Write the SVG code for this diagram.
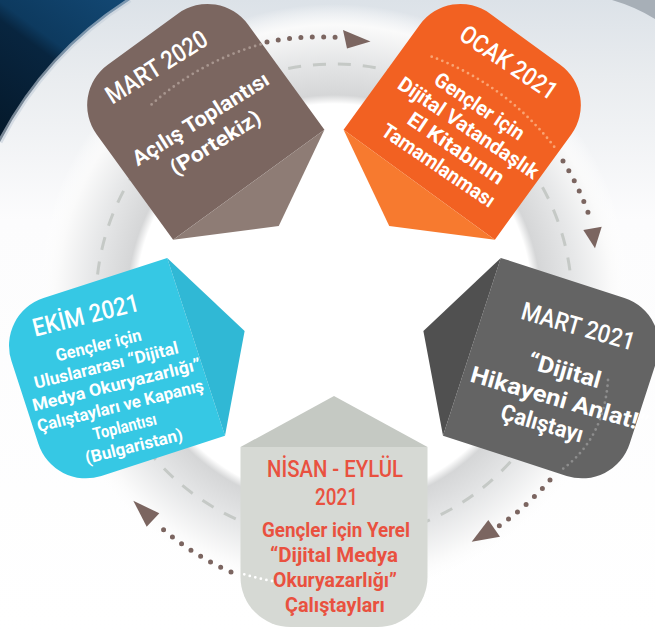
<svg xmlns="http://www.w3.org/2000/svg" width="655" height="630" viewBox="0 0 655 630">
<defs>
<style>
.t{font-family:Roboto,"Open Sans","DejaVu Sans",sans-serif;fill:#fff;text-anchor:middle}
.h{font-size:25px;font-weight:500}
.b{font-weight:700}
.red{fill:#e9513f}
.dk{fill:none;stroke:#7b6560;stroke-width:5;stroke-linecap:round;stroke-dasharray:0 11.4}
.lt{fill:none;stroke-width:2.8;stroke-linecap:round;stroke-dasharray:0 5.7}
.ah{fill:#7b6560}
</style>
<linearGradient id="bg" x1="0" y1="0" x2="0" y2="1">
<stop offset="0" stop-color="#dce2e8"/>
<stop offset="0.12" stop-color="#e9ecef"/>
<stop offset="0.35" stop-color="#fcfcfd"/>
<stop offset="1" stop-color="#ffffff"/>
</linearGradient>
<linearGradient id="navy" gradientUnits="userSpaceOnUse" x1="130" y1="0" x2="20" y2="150">
<stop offset="0" stop-color="#134874"/>
<stop offset="0.42" stop-color="#0d3a5f"/>
<stop offset="0.5" stop-color="#08253f"/>
<stop offset="1" stop-color="#05192b"/>
</linearGradient>
<radialGradient id="ring" gradientUnits="userSpaceOnUse" cx="334" cy="302" r="298">
<stop offset="0" stop-color="#ffffff"/>
<stop offset="0.665" stop-color="#ffffff"/>
<stop offset="0.695" stop-color="#d5d6d7"/>
<stop offset="0.82" stop-color="#e7e8e9"/>
<stop offset="0.93" stop-color="#fafafa"/>
<stop offset="1" stop-color="#ffffff" stop-opacity="0"/>
</radialGradient>
<path id="body" d="M-93.5,145 L93.5,145 L93.5,275 A50,50 0 0 1 43.5,325 L-43.5,325 A50,50 0 0 1 -93.5,275 Z"/>
<path id="roof" d="M-93.5,145 L0,94 L93.5,145 Z"/>
</defs>

<g id="background">
<rect width="655" height="630" fill="url(#bg)"/>
<path d="M0,0 H130 A368,368 0 0 0 0,142 Z" fill="url(#navy)"/>
<path d="M130,0 A368,368 0 0 0 0,142" fill="none" stroke="#c4cfda" stroke-width="5" opacity="0.6"/>
<path d="M612,0 Q636,7 655,19 V0 Z" fill="#a7afb7"/>
<circle cx="334" cy="302" r="298" fill="url(#ring)"/>
<circle cx="334" cy="302" r="238" fill="none" stroke="#c5c9c6" stroke-width="3" stroke-dasharray="13 12"/>
</g>

<g id="node-mart2020">
<g transform="translate(334,302) rotate(144)">
<use href="#body" fill="#7b6660"/>
<use href="#roof" fill="#8e7c75"/>
</g>
<g class="t" transform="translate(204.3,125) rotate(-32)">
<text class="h" x="-9.7" y="-66" textLength="115" lengthAdjust="spacingAndGlyphs">MART 2020</text>
<text class="b" font-size="21" x="0" y="0" textLength="157" lengthAdjust="spacingAndGlyphs">Açılış Toplantısı</text>
<text class="b" font-size="21" x="0" y="28" textLength="103" lengthAdjust="spacingAndGlyphs">(Portekiz)</text>
</g>
</g>

<g id="node-ocak2021">
<g transform="translate(334,302) rotate(216)">
<use href="#body" fill="#f26122"/>
<use href="#roof" fill="#f77a2f"/>
</g>
<g class="t" transform="translate(463,132.5) rotate(34)">
<text class="h" x="-1.3" y="-75" textLength="112" lengthAdjust="spacingAndGlyphs">OCAK 2021</text>
<text class="b" font-size="20.5" x="-1" y="-24" textLength="104" lengthAdjust="spacingAndGlyphs">Gençler için</text>
<text class="b" font-size="20.5" x="2" y="0" textLength="165" lengthAdjust="spacingAndGlyphs">Dijital Vatandaşlık</text>
<text class="b" font-size="20.5" x="3" y="24" textLength="112" lengthAdjust="spacingAndGlyphs">El Kitabının</text>
<text class="b" font-size="20.5" x="-2" y="48" textLength="132" lengthAdjust="spacingAndGlyphs">Tamamlanması</text>
</g>
</g>

<g id="node-mart2021">
<g transform="translate(334,302) rotate(288)">
<use href="#body" fill="#646464"/>
<use href="#roof" fill="#505050"/>
</g>
<g class="t" transform="translate(555.4,406.1) rotate(16)">
<text class="h" x="0" y="-74.3" textLength="117" lengthAdjust="spacingAndGlyphs">MART 2021</text>
<text class="b" font-size="23" x="-1" y="-29" textLength="75" lengthAdjust="spacingAndGlyphs">“Dijital</text>
<text class="b" font-size="23" x="2" y="0" textLength="184" lengthAdjust="spacingAndGlyphs">Hikayeni Anlat!”</text>
<text class="b" font-size="23" x="-8" y="28" textLength="85" lengthAdjust="spacingAndGlyphs">Çalıştayı</text>
</g>
</g>

<g id="node-nisan-eylul2021">
<g transform="translate(334,302)">
<use href="#body" fill="#d6d9d4"/>
<use href="#roof" fill="#c5c9c3"/>
</g>
<g class="t red">
<text class="red" font-size="23.2" font-weight="500" x="335" y="477" textLength="136" lengthAdjust="spacingAndGlyphs">NİSAN - EYLÜL</text>
<text class="red" font-size="23.2" font-weight="500" x="336.5" y="505" textLength="43" lengthAdjust="spacingAndGlyphs">2021</text>
<text class="b red" font-size="20.7" x="336" y="536.7" textLength="148" lengthAdjust="spacingAndGlyphs">Gençler için Yerel</text>
<text class="b red" font-size="20.7" x="334" y="561.7" textLength="128" lengthAdjust="spacingAndGlyphs">“Dijital Medya</text>
<text class="b red" font-size="20.7" x="335" y="586.7" textLength="124" lengthAdjust="spacingAndGlyphs">Okuryazarlığı”</text>
<text class="b red" font-size="20.7" x="335" y="611.7" textLength="100" lengthAdjust="spacingAndGlyphs">Çalıştayları</text>
</g>
</g>

<g id="node-ekim2021">
<g transform="translate(334,302) rotate(72)">
<use href="#body" fill="#36c8e4"/>
<use href="#roof" fill="#30b8d5"/>
</g>
<g class="t" transform="translate(115,391) rotate(-14)">
<text class="h" x="-10" y="-72" textLength="109" lengthAdjust="spacingAndGlyphs">EKİM 2021</text>
<text class="b" font-size="17" x="-5" y="-42.6" textLength="88" lengthAdjust="spacingAndGlyphs">Gençler için</text>
<text class="b" font-size="17" x="-2.4" y="-21.3" textLength="148" lengthAdjust="spacingAndGlyphs">Uluslararası “Dijital</text>
<text class="b" font-size="17" x="2.9" y="0" textLength="173" lengthAdjust="spacingAndGlyphs">Medya Okuryazarlığı”</text>
<text class="b" font-size="17" x="1.6" y="21.3" textLength="171" lengthAdjust="spacingAndGlyphs">Çalıştayları ve Kapanış</text>
<text class="b" font-size="17" x="0.8" y="42.6" textLength="65" lengthAdjust="spacingAndGlyphs">Toplantısı</text>
<text class="b" font-size="17" x="5" y="63.9" textLength="100" lengthAdjust="spacingAndGlyphs">(Bulgaristan)</text>
</g>
</g>

<g id="connectors">
<path class="lt" stroke="#a8968f" d="M151.6,104.4 A275,275 0 0 1 262,44"/>
<path class="lt" stroke="#f9a473" d="M431.7,56.7 A275,275 0 0 1 556.7,150"/>
<path class="lt" stroke="#8d8d8d" d="M608,380 Q604,440 560,471"/>
<path class="lt" stroke="#ffffff" d="M272,581 A275,275 0 0 1 240,573"/>
<path class="dk" d="M267,42 A276,276 0 0 1 338,37.5"/>
<path class="dk" d="M563,161 A276,276 0 0 1 591,221"/>
<path class="dk" d="M550,480 A276,276 0 0 1 499,526"/>
<path class="dk" d="M231,572 A276,276 0 0 1 157,524"/>
<polygon class="ah" points="343,30 347,48.5 370.5,41.5"/>
<polygon class="ah" points="583.3,230 601.7,226.7 595,248.3"/>
<polygon class="ah" points="488.3,520 500,536.7 471.7,541.7"/>
<polygon class="ah" points="159.3,513.3 146.7,526.7 133.3,500.7"/>
</g>
</svg>
